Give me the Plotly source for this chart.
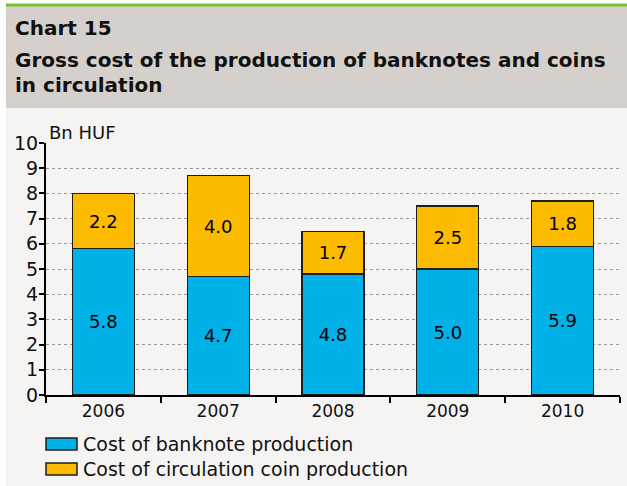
import plotly.graph_objects as go

years = ['2006', '2007', '2008', '2009', '2010']
banknote_cost = [5.8, 4.7, 4.8, 5.0, 5.9]
coin_cost = [2.2, 4.0, 1.7, 2.5, 1.8]
series_names = ['Cost of banknote production', 'Cost of circulation coin production']
series_colors = ['#00b2e8', '#fdbb00']

W, H = 627, 486
ML, MR, MT, MB = 46, 7, 143, 91
PW, PH = W - ML - MR, H - MT - MB


def px_x(p):
    return (p - ML) / PW


def px_y(p):
    return (H - MB - p) / PH


FONT = 'DejaVu Sans, sans-serif'
OUTLINE = '#1e1e1e'

fig = go.Figure()
for vals, name, col in zip([banknote_cost, coin_cost], series_names, series_colors):
    fig.add_trace(go.Bar(
        x=years, y=vals, name=name,
        marker=dict(color=col, line=dict(color=OUTLINE, width=1.3)),
        texttemplate='%{y:.1f}', textposition='inside', insidetextanchor='middle',
        textfont=dict(color='black', size=18), constraintext='none',
    ))

shapes = [
    # panel background
    dict(type='rect', xref='paper', yref='paper', x0=px_x(6), x1=px_x(W + 2),
         y0=px_y(H + 2), y1=px_y(108), fillcolor='#f5f4f2', line_width=0, layer='below'),
    # header
    dict(type='rect', xref='paper', yref='paper', x0=px_x(6), x1=px_x(W + 2),
         y0=px_y(108), y1=px_y(6), fillcolor='#d5d0cc', line_width=0, layer='below'),
    # green rule
    dict(type='rect', xref='paper', yref='paper', x0=px_x(6), x1=px_x(W + 2),
         y0=px_y(6.5), y1=px_y(3.5), fillcolor='#7cbd2a', line_width=0, layer='below'),
]

annotations = [
    dict(text='<b>Chart 15</b>', x=px_x(13), y=px_y(14)),
    dict(text='<b>Gross cost of the production of banknotes and coins</b>', x=px_x(13), y=px_y(46)),
    dict(text='<b>in circulation</b>', x=px_x(13), y=px_y(71)),
]
for a in annotations:
    a.update(xref='paper', yref='paper', xanchor='left', yanchor='top', showarrow=False,
             align='left', font=dict(size=20, color='#111'))

annotations.append(dict(text='Bn HUF', xref='paper', yref='paper', x=px_x(47), y=px_y(120),
                        xanchor='left', yanchor='top', showarrow=False,
                        font=dict(size=18, color='#111')))

# legend drawn by hand so the swatches match the wide boxes of the original
for i, (name, col) in enumerate(zip(series_names, series_colors)):
    top = 438 + i * 25
    shapes.append(dict(type='rect', xref='paper', yref='paper',
                       x0=px_x(46), x1=px_x(77), y0=px_y(top + 12), y1=px_y(top),
                       fillcolor=col, line=dict(color=OUTLINE, width=1.5)))
    annotations.append(dict(text=name, xref='paper', yref='paper', x=px_x(81), y=px_y(top + 6),
                            xanchor='left', yanchor='middle', showarrow=False,
                            font=dict(size=19, color='#111')))

fig.update_layout(
    width=W, height=H, autosize=False,
    margin=dict(l=ML, r=MR, t=MT, b=MB),
    paper_bgcolor='white', plot_bgcolor='rgba(0,0,0,0)',
    font=dict(family=FONT, color='#111'),
    barmode='stack', bargap=0.46,
    showlegend=False,
    shapes=shapes,
    annotations=annotations,
)
fig.update_xaxes(
    showline=True, linecolor='black', linewidth=2,
    ticks='outside', tickson='boundaries', ticklen=6, tickwidth=2, tickcolor='black',
    tickfont=dict(size=17), showgrid=False,
)
fig.update_yaxes(
    range=[0, 10], dtick=1, showline=True, linecolor='black', linewidth=2,
    ticks='outside', ticklen=5, tickwidth=2, tickcolor='black',
    tickfont=dict(size=19), zeroline=False, ticklabelstandoff=-3,
    showgrid=True, gridcolor='#9a9a9a', gridwidth=1, griddash='dot',
)

fig.write_html('out.html', config={'displayModeBar': False},
               post_script="document.body.style.margin='0';")
